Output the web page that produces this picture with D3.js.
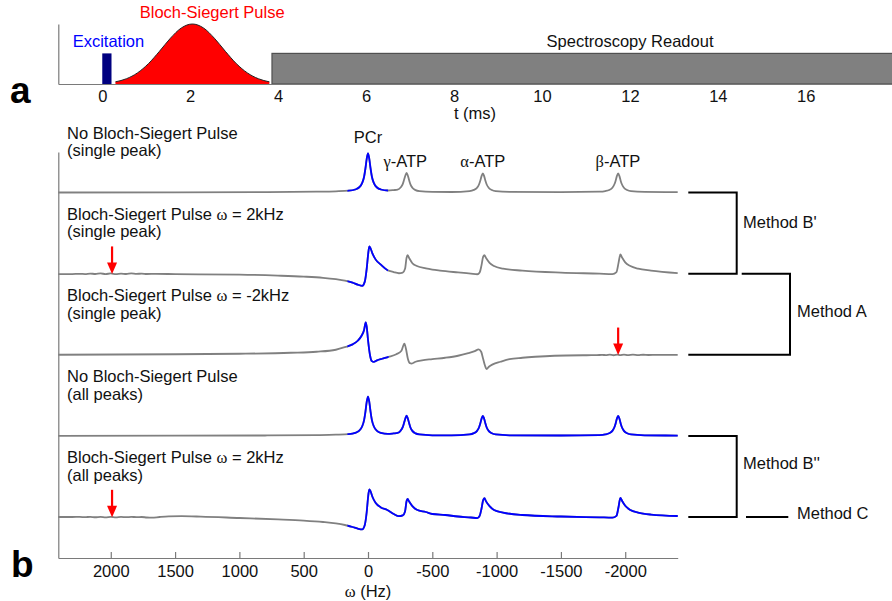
<!DOCTYPE html>
<html><head><meta charset="utf-8">
<script src="https://cdn.jsdelivr.net/npm/d3@7"></script>
<style>
html,body{margin:0;padding:0;background:#fff;}
svg{display:block;}
</style></head><body>
<svg id="chart" width="892" height="601"></svg>
<script>
// ---------- (a) pulse sequence timing ----------
const timeTicks = [0, 2, 4, 6, 8, 10, 12, 14, 16];
const excitationWindow = [0, 0.21];          // ms
const readoutWindow = [3.86, 18.5];          // ms
const blockLevel = 0.51;                     // relative RF / readout level
const bsPulseTime = [0.30, 0.55, 0.80, 1.05, 1.30, 1.55, 1.80, 2.05, 2.30, 2.55, 2.80, 3.05, 3.30, 3.55, 3.80];
const bsPulseAmp  = [0.036, 0.088, 0.185, 0.339, 0.544, 0.763, 0.935, 1.0, 0.935, 0.763, 0.544, 0.339, 0.185, 0.088, 0.036];

// ---------- (b) 31P spectra, [frequency Hz, signal a.u.] ----------
const freqTicks = [2000, 1500, 1000, 500, 0, -500, -1000, -1500, -2000];

const traceTitles = [
  ["No Bloch-Siegert Pulse", "(single peak)"],
  ["Bloch-Siegert Pulse ω = 2kHz", "(single peak)"],
  ["Bloch-Siegert Pulse ω = -2kHz", "(single peak)"],
  ["No Bloch-Siegert Pulse", "(all peaks)"],
  ["Bloch-Siegert Pulse ω = 2kHz", "(all peaks)"]
];

// frequency range drawn in blue on each trace (excited peaks)
const blueRanges = [[160, -155], [160, -155], [160, -160], [160, -2500], [160, -2500]];

const peakNames = ["PCr", "γ-ATP", "α-ATP", "β-ATP"];
const peakLabelFreq = [0, -290, -893, -1943];

const specNoBsSingle = [[2408,0],[1500,0.5],[800,1],[400,2],[250,3],[150,4.5],[100,7.5],[70,12.5],[45,24],[30,40],[20,60],[10,84],[0,97.5],[-10,84],[-20,60],[-30,40],[-45,24],[-70,12.5],[-100,7.5],[-155,5],[-200,6],[-230,7],[-255,13],[-270,21],[-280,31],[-290,42],[-300,49],[-310,42],[-320,30.5],[-330,20.5],[-345,12],[-370,6],[-400,3.5],[-500,1.5],[-650,1.3],[-790,3.5],[-823,6.5],[-848,12],[-863,20],[-873,29.5],[-883,41],[-893,47.5],[-903,41],[-913,29.5],[-923,20],[-938,12],[-963,6.3],[-993,3.5],[-1100,1.5],[-1500,1],[-1800,2],[-1845,3.5],[-1875,6.3],[-1900,12],[-1915,20],[-1925,29],[-1935,41],[-1945,47.5],[-1955,41],[-1965,29],[-1975,20],[-1990,12],[-2015,6.3],[-2045,3.5],[-2150,1.5],[-2408,0.8]];

const specBsPlusSingle = [[2408,-1.2],[2300,-1],[2240,-0.5],[2200,-1],[2160,0.2],[2120,-0.9],[2080,0.4],[2040,-1],[2000,0.4],[1960,-1.1],[1920,0],[1880,-0.9],[1840,0.4],[1800,-0.7],[1760,0],[1720,-0.9],[1650,-0.6],[1500,-1.2],[1000,-2.5],[700,-5],[500,-7.5],[350,-10.5],[250,-14],[180,-17.5],[120,-22.5],[80,-27.5],[45,-30.5],[25,-20],[10,12.5],[0,45],[-10,68],[-20,63],[-35,50],[-60,35],[-100,22.5],[-150,9],[-200,3.8],[-240,1],[-270,2.5],[-288,12],[-300,40],[-308,46],[-320,39],[-345,26],[-380,19],[-450,13],[-500,10],[-560,7.5],[-700,3],[-800,0],[-850,-1.5],[-868,3],[-882,20],[-895,42],[-905,46],[-918,39],[-945,27],[-980,19],[-1050,12.5],[-1200,7.5],[-1500,2.5],[-1800,0],[-1900,-1],[-1932,4],[-1948,27],[-1962,48],[-1976,40],[-2000,28],[-2040,19],[-2100,12.5],[-2200,7.5],[-2408,1.2]];

const specBsMinusSingle = [[2408,0],[1500,1.2],[1000,2.5],[600,5],[400,7.5],[250,12.5],[180,19],[120,26],[80,35],[50,47.5],[30,62.5],[18,81],[10,70],[0,37.5],[-15,0],[-30,-16],[-45,-18],[-70,-14],[-110,-10],[-160,-5.5],[-220,1.2],[-260,10],[-283,28],[-295,15],[-310,-10],[-325,-21],[-340,-22],[-370,-17.5],[-420,-14],[-500,-11],[-600,-7.5],[-700,-2.5],[-780,3.8],[-830,9],[-860,13.5],[-880,7.5],[-895,-10],[-910,-27.5],[-922,-36],[-940,-30],[-970,-24],[-1030,-17.5],[-1100,-11],[-1200,-7.5],[-1300,-5],[-1450,-2.5],[-1700,-1.2],[-1780,-1],[-1820,-0.2],[-1850,-1],[-1880,0.2],[-1910,-1.2],[-1940,0.3],[-1960,-1],[-1990,0.4],[-2020,-0.9],[-2060,0.2],[-2100,-0.9],[-2140,0],[-2180,-0.6],[-2250,-0.3],[-2408,-0.5]];

const specNoBsAll = [[2408,0],[1500,0.5],[800,1],[400,2],[250,3],[150,4.5],[100,7.5],[70,12.5],[45,24],[30,40],[20,60],[10,85],[0,98],[-10,85],[-20,60],[-30,40],[-45,24],[-70,12.5],[-100,7.5],[-155,5],[-200,6.2],[-230,7.3],[-255,13.5],[-270,22],[-280,32],[-290,43],[-300,50.5],[-310,43],[-320,31.5],[-330,21],[-345,12.5],[-370,6.2],[-400,3.6],[-500,1.5],[-650,1.3],[-790,3.6],[-823,6.8],[-848,12.5],[-863,21],[-873,31],[-883,43],[-893,50],[-903,43],[-913,31],[-923,21],[-938,12.5],[-963,6.5],[-993,3.6],[-1100,1.5],[-1500,1],[-1800,2],[-1845,3.6],[-1875,6.5],[-1900,12.5],[-1915,21],[-1925,30.5],[-1935,43],[-1945,50],[-1955,43],[-1965,30.5],[-1975,21],[-1990,12.5],[-2015,6.5],[-2045,3.6],[-2150,1.5],[-2408,0.8]];

const specBsPlusAll = [[2408,0],[2300,0],[2240,0.3],[2200,-0.5],[2160,0.4],[2120,-0.6],[2080,0.3],[2040,-0.7],[2000,0.4],[1960,-0.7],[1920,0.3],[1880,-0.5],[1840,0.3],[1800,-0.4],[1760,0],[1720,-1.2],[1680,-1.8],[1620,0],[1550,1.5],[1450,2],[1300,1],[1000,-2.5],[700,-6],[500,-9],[350,-12.5],[250,-16],[180,-20],[120,-25],[80,-29],[45,-31],[25,-20],[10,12.5],[0,47.5],[-10,69],[-20,64],[-35,50],[-60,35],[-100,24],[-150,17.5],[-200,7.5],[-240,2],[-270,4],[-288,14],[-300,40],[-308,45],[-320,38.5],[-345,27],[-380,18],[-450,12.5],[-500,7.5],[-600,5],[-700,1.2],[-800,-1.2],[-850,-2.8],[-868,3],[-882,20],[-895,42],[-905,47],[-918,39],[-945,27],[-980,17.5],[-1050,11],[-1200,5],[-1500,1.2],[-1800,-0.8],[-1900,-1.6],[-1932,3],[-1948,25],[-1962,48],[-1976,40],[-2000,28],[-2040,17.5],[-2100,11],[-2200,6],[-2408,2.5]];

const spectra = [specNoBsSingle, specBsPlusSingle, specBsMinusSingle, specNoBsAll, specBsPlusAll];

// red arrows: [trace index, frequency of the off-resonance pulse]
const arrowMarks = [[1, 1990], [2, -1945], [4, 1990]];

// ---------- drawing ----------
const W = 892, H = 601;
const FONT = '"Liberation Sans", Arial, Helvetica, sans-serif';
const SYM = '"Liberation Serif", "Times New Roman", serif';
const FS = 16.5;
const INK = "#111";
const AXIS = "#7a7a7a";
const GRAY = "#808080";
const BLUE = "#0000ff";

const svg = d3.select("#chart").attr("font-family", FONT);

// write text, rendering Greek letters in a serif face
function richText(sel, str) {
  const parts = str.split(/([ωαβγ])/).filter(s => s.length);
  parts.forEach(p => {
    const t = sel.append("tspan").text(p);
    if (/^[ωαβγ]$/.test(p)) t.attr("font-family", SYM);
  });
  return sel;
}

function styleAxis(g) {
  g.attr("font-family", null).attr("font-size", null);
  g.select(".domain").attr("stroke", AXIS).attr("stroke-width", 1.2);
  g.selectAll(".tick line").attr("stroke", AXIS).attr("stroke-width", 1.2);
  g.selectAll("text").attr("font-size", FS).attr("font-family", FONT).attr("fill", INK);
}

// ===== panel (a) =====
const xT = d3.scaleLinear().domain([-1, 18]).range([58.3, 893.7]);
const yT = d3.scaleLinear().domain([0, 1]).range([84, 24]);
const gA = svg.append("g");

gA.append("rect")
  .attr("x", xT(readoutWindow[0])).attr("y", yT(blockLevel))
  .attr("width", xT(readoutWindow[1]) - xT(readoutWindow[0]))
  .attr("height", yT(0) - yT(blockLevel))
  .attr("fill", "#808080").attr("stroke", "#505050").attr("stroke-width", 1.2);

gA.append("rect")
  .attr("x", xT(excitationWindow[0])).attr("y", yT(blockLevel))
  .attr("width", xT(excitationWindow[1]) - xT(excitationWindow[0]))
  .attr("height", yT(0) - yT(blockLevel))
  .attr("fill", "#000080");

const pulse = bsPulseTime.map((t, i) => [t, bsPulseAmp[i]]);
gA.append("path").datum(pulse)
  .attr("d", d3.area().x(d => xT(d[0])).y0(yT(0)).y1(d => yT(d[1])).curve(d3.curveMonotoneX))
  .attr("fill", "#ff0000");
gA.append("path").datum(pulse)
  .attr("d", d3.line().x(d => xT(d[0])).y(d => yT(d[1])).curve(d3.curveMonotoneX))
  .attr("fill", "none").attr("stroke", "#222").attr("stroke-width", 1);

gA.append("g").attr("transform", "translate(0,84)")
  .call(d3.axisBottom(xT).tickValues(timeTicks).tickFormat(d => String(d)).tickSize(0).tickPadding(6).tickSizeOuter(0))
  .call(styleAxis);
gA.append("g").attr("transform", "translate(58.3,0)")
  .call(d3.axisLeft(yT).tickValues([]).tickSizeOuter(0))
  .call(styleAxis);

gA.append("text").attr("x", 108.4).attr("y", 46.7).attr("text-anchor", "middle")
  .attr("font-size", FS).attr("fill", "#0000ff").text("Excitation");
gA.append("text").attr("x", 212.2).attr("y", 18.3).attr("text-anchor", "middle")
  .attr("font-size", FS).attr("fill", "#ff0000").text("Bloch-Siegert Pulse");
gA.append("text").attr("x", 630).attr("y", 46.7).attr("text-anchor", "middle")
  .attr("font-size", FS).attr("fill", INK).text("Spectroscopy Readout");
gA.append("text").attr("x", 475).attr("y", 119).attr("text-anchor", "middle")
  .attr("font-size", FS).attr("fill", INK).text("t (ms)");
gA.append("text").attr("x", 10).attr("y", 103.3)
  .attr("font-size", 37).attr("font-weight", "bold").attr("fill", "#000").text("a");

// ===== panel (b) =====
const xF = d3.scaleLinear().domain([2408, -2408]).range([58.3, 677.7]);
const base = d3.scaleLinear().domain([0, 4]).range([192.5, 517]);
const amp = d3.scaleLinear().domain([0, 100]).range([0, 40]);
const yFrame = d3.scaleLinear().domain([0, 1]).range([558, 152]);
const gB = svg.append("g");

gB.append("g").attr("transform", "translate(0,558)")
  .call(d3.axisBottom(xF).tickValues(freqTicks).tickFormat(d => String(d)).tickSize(-6).tickPadding(7).tickSizeOuter(0))
  .call(styleAxis);
gB.append("g").attr("transform", "translate(58.3,0)")
  .call(d3.axisLeft(yFrame).tickValues([]).tickSizeOuter(0))
  .call(styleAxis);

const omegaLabel = gB.append("text").attr("x", 368).attr("y", 596.7).attr("text-anchor", "middle")
  .attr("font-size", FS).attr("fill", INK);
richText(omegaLabel, "ω (Hz)");

const defs = svg.append("defs");
spectra.forEach((spec, i) => {
  const b = base(i);
  const line = d3.line().x(d => xF(d[0])).y(d => b - amp(d[1])).curve(d3.curveMonotoneX);
  gB.append("path").datum(spec).attr("d", line)
    .attr("fill", "none").attr("stroke", GRAY).attr("stroke-width", 1.8).attr("stroke-linejoin", "round");
  const r = blueRanges[i];
  defs.append("clipPath").attr("id", "blue" + i).append("rect")
    .attr("x", xF(r[0])).attr("y", 0).attr("width", xF(r[1]) - xF(r[0])).attr("height", H);
  gB.append("path").datum(spec).attr("d", line).attr("clip-path", `url(#blue${i})`)
    .attr("fill", "none").attr("stroke", BLUE).attr("stroke-width", 1.8).attr("stroke-linejoin", "round");

  traceTitles[i].forEach((s, k) => {
    const t = gB.append("text").attr("x", 67).attr("y", b - 54 + k * 17.8)
      .attr("font-size", FS).attr("fill", INK);
    richText(t, s);
  });
});

// peak names above the top trace
peakNames.forEach((name, i) => {
  const t = gB.append("text").attr("x", xF(peakLabelFreq[i])).attr("y", i === 0 ? 142.5 : 166.5)
    .attr("text-anchor", "middle").attr("font-size", FS).attr("fill", INK);
  richText(t, name);
});

// arrows marking the off-resonance pulse frequency
arrowMarks.forEach(([i, f]) => {
  const x = xF(f), tip = base(i) + 0.3;
  gB.append("line").attr("x1", x).attr("x2", x).attr("y1", tip - 27.5).attr("y2", tip - 9)
    .attr("stroke", "#ff0000").attr("stroke-width", 2.2);
  gB.append("path").attr("d", `M${x},${tip}L${x - 5},${tip - 11.5}L${x + 5},${tip - 11.5}Z`)
    .attr("fill", "#ff0000");
});

// method brackets
const bk = gB.append("g").attr("fill", "none").attr("stroke", "#000").attr("stroke-width", 2);
bk.append("path").attr("d", `M688.3,${base(0)}H736.7V${base(1)}H688.3`);
bk.append("path").attr("d", `M741.7,${base(1)}H790V${base(2)}H688.3`);
bk.append("path").attr("d", `M688.3,${base(3)}H736.7V${base(4)}H688.3`);
bk.append("path").attr("d", `M746,${base(4)}H788.3`);

const methods = [["Method B'", 743, 227.5], ["Method A", 797, 316.5], ["Method B''", 743, 468.5], ["Method C", 797, 518.5]];
methods.forEach(([s, x, y]) => {
  gB.append("text").attr("x", x).attr("y", y).attr("font-size", FS).attr("fill", INK).text(s);
});

gB.append("text").attr("x", 11).attr("y", 576.7)
  .attr("font-size", 37).attr("font-weight", "bold").attr("fill", "#000").text("b");
</script>
</body></html>
